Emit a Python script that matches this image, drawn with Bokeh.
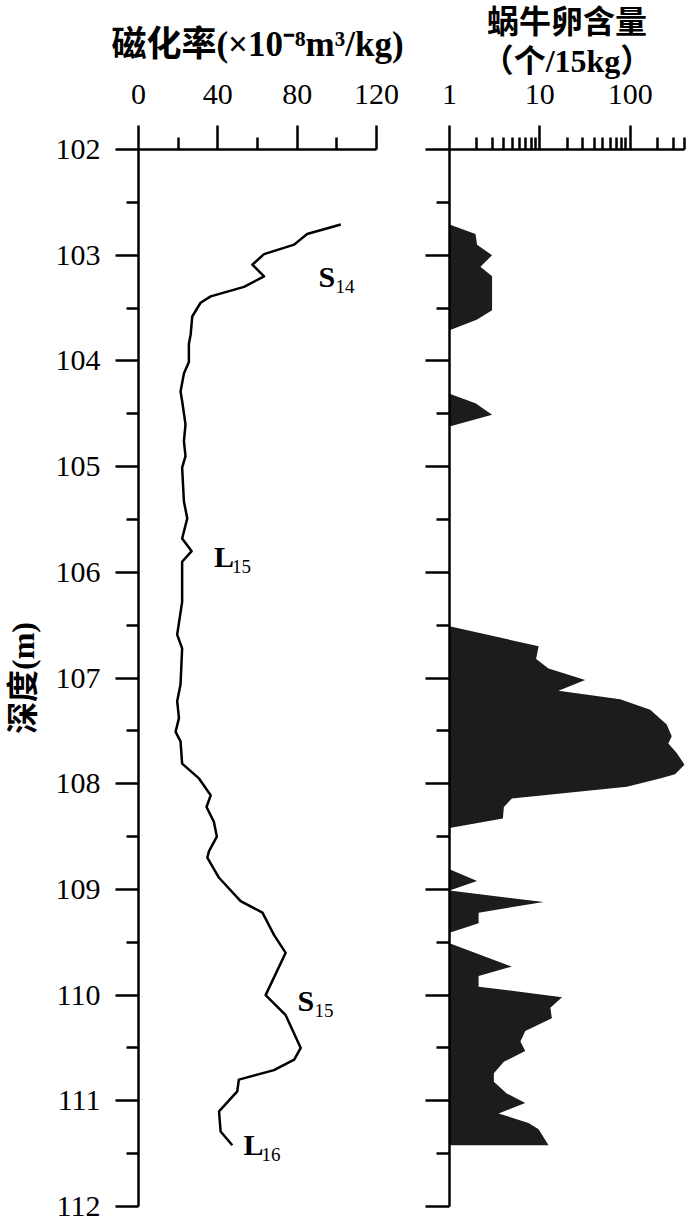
from bokeh.plotting import figure
from bokeh.layouts import row
from bokeh.models import FixedTicker, Range1d, NumeralTickFormatter, CustomJSTickFormatter, Title
from bokeh.embed import file_html
from bokeh.resources import INLINE
from bokeh.core.properties import value

# ---- magnetic susceptibility (x10^-8 m3/kg) vs depth (m)
sus_depth = [102.71, 102.80, 102.90, 102.99, 103.09, 103.20, 103.30, 103.39, 103.45, 103.58,
             103.75, 103.84, 104.01, 104.12, 104.29, 104.38, 104.60, 104.76, 104.90, 105.01,
             105.33, 105.49, 105.68, 105.80, 105.90, 106.28, 106.59, 106.72, 107.06, 107.22,
             107.38, 107.51, 107.60, 107.81, 107.95, 108.11, 108.22, 108.36, 108.50, 108.64,
             108.70, 108.89, 109.11, 109.22, 109.43, 109.60, 110.00, 110.19, 110.50, 110.61,
             110.71, 110.80, 110.91, 111.10, 111.29, 111.42]
sus_value = [102, 85, 78.5, 63.3, 57.4, 63.3, 53.2, 36.4, 31.3, 27.1,
             26.3, 25.4, 25.4, 22.9, 21.2, 22.0, 23.7, 22.9, 23.7, 22.0,
             22.9, 24.6, 22.0, 26.8, 22.0, 22.0, 19.5, 22.0, 21.2, 19.5,
             20.4, 18.7, 21.2, 22.0, 30.5, 36.4, 34.3, 38.0, 39.5, 35.5,
             34.7, 40.6, 51.5, 62.5, 68.3, 74.2, 64.1, 74.2, 81.8, 78.5,
             68.3, 50.6, 49.8, 40.6, 41.4, 47.3]

# ---- snail egg content (count / 15 kg) vs depth (m)
egg_depth = [102.71, 102.80, 102.90, 103.00, 103.11, 103.20, 103.52, 103.61, 103.71,
             104.31, 104.40, 104.51, 104.62,
             106.51, 106.70, 106.82, 106.91, 107.02, 107.12, 107.20, 107.30, 107.44, 107.55,
             107.62, 107.71, 107.82, 107.91, 107.95, 108.03, 108.14, 108.22, 108.33, 108.42,
             108.81, 108.92, 109.01, 109.12, 109.22, 109.32, 109.41,
             109.51, 109.73, 109.82, 109.92, 110.02, 110.12, 110.22, 110.34, 110.44, 110.53,
             110.63, 110.74, 110.82, 110.93, 111.02, 111.12, 111.21, 111.27, 111.42, 111.42]
egg_count = [1, 1.94, 2.02, 2.96, 2.2, 2.96, 2.96, 2.0, 1,
             1, 1.94, 2.96, 1,
             1, 9.7, 9.1, 12.5, 31.8, 16.1, 77.5, 167, 254, 289,
             265, 328, 400, 314, 214, 92, 4.9, 4.0, 3.9, 1,
             1, 2.02, 1, 11, 2.1, 2.1, 1,
             1, 4.9, 2.1, 2.1, 17.6, 13.1, 13.6, 6.9, 6.1, 6.9,
             4.0, 3.1, 3.1, 4.3, 6.9, 3.5, 7.5, 9.7, 12.5, 1]

sus_ticks = [0, 40, 80, 120]
sus_minor = [20, 60, 100]
egg_ticks = [1, 10, 100]
egg_minor = [2, 3, 4, 5, 6, 7, 8, 9, 20, 30, 40, 50, 60, 70, 80, 90, 200, 300, 400]
depth_ticks = list(range(102, 113))
depth_minor = [d + 0.5 for d in range(102, 112)]

sus_title = "磁化率(×10⁻⁸m³/kg)"
egg_title1 = "蜗牛卵含量"
egg_title2 = "（个/15kg）"
depth_title = "深度(m)"

lab_main = ["S", "L", "S", "L"]
lab_sub = ["14", "15", "15", "16"]
lab_x = [90.8, 38.1, 80.2, 52.9]
lab_depth = [103.20, 105.85, 110.05, 111.41]

SERIF = "'Liberation Serif', 'Noto Sans CJK SC'"
LW = 2.5


def style_axes(p):
    for ax in p.axis:
        ax.axis_line_width = LW
        ax.axis_line_color = "black"
        ax.major_tick_line_width = LW
        ax.minor_tick_line_width = LW
        ax.major_tick_line_color = "black"
        ax.minor_tick_line_color = "black"
        ax.major_tick_in = 0
        ax.minor_tick_in = 0
        ax.major_label_text_font = SERIF
        ax.major_label_text_font_size = "30px"
        ax.major_label_text_color = "black"
        ax.axis_label_text_font = SERIF
        ax.axis_label_text_font_style = "bold"
        ax.axis_label_text_color = "black"
    p.grid.visible = False


# ---------------- left panel
p1 = figure(width=415, height=1222, x_range=Range1d(0, 120), y_range=Range1d(112, 102),
            x_axis_location="above", output_backend="svg", toolbar_location=None,
            min_border_left=138, min_border_right=39, min_border_top=149, min_border_bottom=16,
            outline_line_color=None)
style_axes(p1)
p1.xaxis.ticker = FixedTicker(ticks=sus_ticks, minor_ticks=sus_minor)
p1.yaxis.ticker = FixedTicker(ticks=depth_ticks, minor_ticks=depth_minor)
p1.xaxis.major_tick_out = 24
p1.xaxis.minor_tick_out = 12
p1.yaxis.major_tick_out = 23
p1.yaxis.minor_tick_out = 12
p1.xaxis.major_label_standoff = 22
p1.yaxis.major_label_standoff = 15
p1.xaxis.axis_label = sus_title
p1.xaxis.axis_label_text_font_size = "35px"
p1.xaxis.axis_label_standoff = 18
p1.yaxis.axis_label = depth_title
p1.yaxis.axis_label_text_font_size = "32px"
p1.yaxis.axis_label_standoff = 12

p1.line(sus_value, sus_depth, line_color="black", line_width=LW, line_join="round")

sub_dx = [{"S": 17, "L": 18}[m] for m in lab_main]
p1.text(x=lab_x, y=lab_depth, text=lab_main, text_font=value("Liberation Serif"),
        text_font_style="bold", text_font_size="30px", text_baseline="alphabetic",
        text_align="left", text_color="black")
p1.text(x=lab_x, y=lab_depth, text=lab_sub, x_offset=sub_dx, y_offset=10,
        text_font=value("Liberation Serif"), text_font_size="19px",
        text_baseline="alphabetic", text_align="left", text_color="black")

# ---------------- right panel
p2 = figure(width=285, height=1222, x_axis_type="log", x_range=Range1d(1, 400),
            y_range=Range1d(112, 102), x_axis_location="above",
            output_backend="svg", toolbar_location=None,
            min_border_left=34, min_border_right=16, min_border_top=149, min_border_bottom=16,
            outline_line_color=None)
style_axes(p2)
p2.xaxis.ticker = FixedTicker(ticks=egg_ticks, minor_ticks=egg_minor)
p2.xaxis.formatter = NumeralTickFormatter(format="0")
p2.yaxis.ticker = FixedTicker(ticks=depth_ticks, minor_ticks=depth_minor)
p2.yaxis.formatter = CustomJSTickFormatter(code="return ''")
p2.xaxis.major_tick_out = 24
p2.xaxis.minor_tick_out = 12
p2.yaxis.major_tick_out = 24
p2.yaxis.minor_tick_out = 13
p2.yaxis.major_label_standoff = 0
p2.xaxis.major_label_standoff = 22
p2.xaxis.axis_label = egg_title2
p2.xaxis.axis_label_text_font_size = "32px"
p2.xaxis.axis_label_standoff = 3
p2.add_layout(Title(text=egg_title1, align="center", text_font=SERIF, text_font_size="32px",
                    text_font_style="bold", text_color="black", standoff=0), "above")

p2.harea(x1=[1] * len(egg_depth), x2=egg_count, y=egg_depth, fill_color="#1c1c1c")

layout = row(p1, p2)
open("out.html", "w").write(file_html(layout, INLINE))
